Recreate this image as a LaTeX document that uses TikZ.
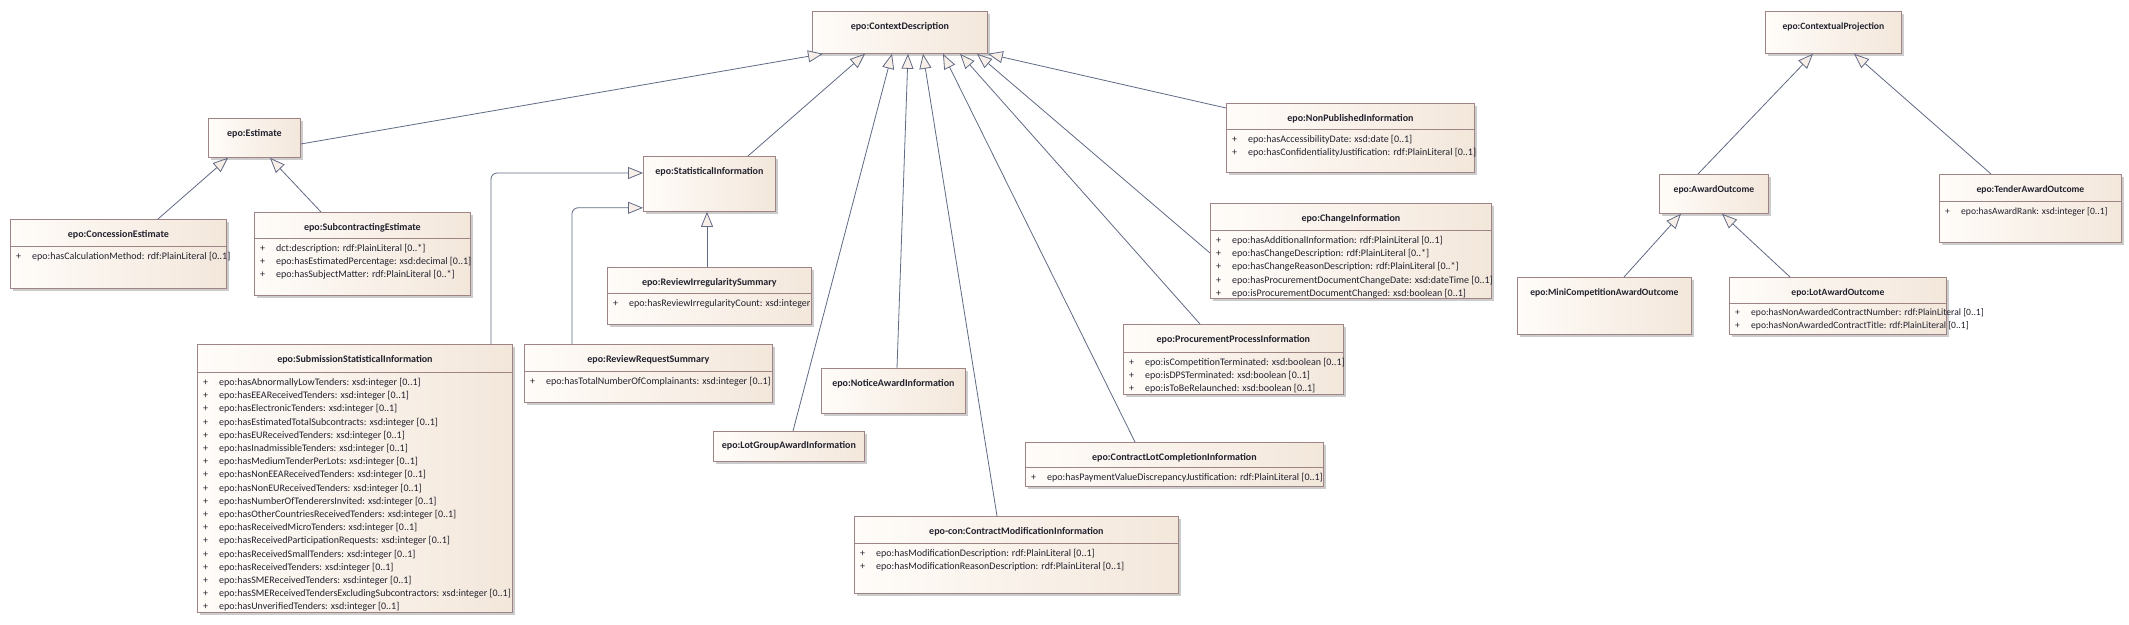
\documentclass[tikz,border=0pt]{standalone}
\usepackage{fontspec}
\setmainfont{Carlito}
\usetikzlibrary{arrows.meta,shadows}

\definecolor{boxline}{RGB}{158,132,132}
\definecolor{boxleft}{RGB}{255,252,249}
\definecolor{boxright}{RGB}{243,231,219}
\definecolor{linkcol}{RGB}{96,106,132}
\definecolor{tipfill}{RGB}{249,239,233}
\definecolor{txtcol}{RGB}{34,34,46}

\newcommand{\attrlist}[1]{\begin{tabular}[t]{@{}p{16pt}@{}l@{}}#1\end{tabular}}

\begin{document}
\begin{tikzpicture}[x=1pt, y=-1pt,
	classbox/.style={draw=boxline, line width=0.8pt, left color=boxleft, right color=boxright,
		anchor=north west, inner sep=0pt,
		drop shadow={shadow xshift=3pt, shadow yshift=-3pt, fill=black!20, opacity=1}},
	clsname/.style={font=\fontsize{10}{12}\selectfont\bfseries, text=txtcol, inner sep=0pt},
	attrs/.style={font=\fontsize{10}{13.2}\selectfont, text=txtcol, anchor=base west, inner sep=0pt},
	pjname/.style={clsname, font=\fontsize{9.6}{11.5}\selectfont\bfseries},
	pjattrs/.style={attrs, font=\fontsize{9.6}{13}\selectfont},
	divline/.style={draw=boxline, line width=0.8pt},
	genlink/.style={draw=linkcol, line width=0.8pt, -{Triangle[length=15pt, width=12pt, fill=tipfill]}}]
	\useasboundingbox[fill=white] (0,0) rectangle (2129,624);

	% ContextDescription hierarchy
	\node[classbox, minimum width=175pt, minimum height=42pt] (ctx) at (812,11) {};
	\node[clsname] at ([yshift=-15.5pt]ctx.north) {epo:ContextDescription};

	\node[classbox, minimum width=92pt, minimum height=39pt] (est) at (208,118) {};
	\node[clsname] at ([yshift=-15.5pt]est.north) {epo:Estimate};

	\node[classbox, minimum width=216pt, minimum height=69pt] (conc) at (10,219) {};
	\node[clsname] at ([yshift=-15.5pt]conc.north) {epo:ConcessionEstimate};
	\draw[divline] ([yshift=-27pt]conc.north west) -- ([yshift=-27pt]conc.north east);
	\node[attrs] at ([xshift=6pt, yshift=-40.5pt]conc.north west) {\attrlist{
		+ & epo:hasCalculationMethod: rdf:PlainLiteral [0..1]}};

	\node[classbox, minimum width=216pt, minimum height=83pt] (subc) at (254,212) {};
	\node[clsname] at ([yshift=-15.5pt]subc.north) {epo:SubcontractingEstimate};
	\draw[divline] ([yshift=-26pt]subc.north west) -- ([yshift=-26pt]subc.north east);
	\node[attrs] at ([xshift=6pt, yshift=-39.5pt]subc.north west) {\attrlist{
		+ & dct:description: rdf:PlainLiteral [0..*] \\
		+ & epo:hasEstimatedPercentage: xsd:decimal [0..1] \\
		+ & epo:hasSubjectMatter: rdf:PlainLiteral [0..*]}};

	\node[classbox, minimum width=132pt, minimum height=55pt] (stat) at (643,156) {};
	\node[clsname] at ([yshift=-15.5pt]stat.north) {epo:StatisticalInformation};

	\node[classbox, minimum width=315pt, minimum height=268pt] (sub) at (197,344) {};
	\node[clsname] at ([yshift=-15.5pt]sub.north) {epo:SubmissionStatisticalInformation};
	\draw[divline] ([yshift=-28pt]sub.north west) -- ([yshift=-28pt]sub.north east);
	\node[attrs] at ([xshift=6pt, yshift=-41.5pt]sub.north west) {\attrlist{
		+ & epo:hasAbnormallyLowTenders: xsd:integer [0..1] \\
		+ & epo:hasEEAReceivedTenders: xsd:integer [0..1] \\
		+ & epo:hasElectronicTenders: xsd:integer [0..1] \\
		+ & epo:hasEstimatedTotalSubcontracts: xsd:integer [0..1] \\
		+ & epo:hasEUReceivedTenders: xsd:integer [0..1] \\
		+ & epo:hasInadmissibleTenders: xsd:integer [0..1] \\
		+ & epo:hasMediumTenderPerLots: xsd:integer [0..1] \\
		+ & epo:hasNonEEAReceivedTenders: xsd:integer [0..1] \\
		+ & epo:hasNonEUReceivedTenders: xsd:integer [0..1] \\
		+ & epo:hasNumberOfTenderersInvited: xsd:integer [0..1] \\
		+ & epo:hasOtherCountriesReceivedTenders: xsd:integer [0..1] \\
		+ & epo:hasReceivedMicroTenders: xsd:integer [0..1] \\
		+ & epo:hasReceivedParticipationRequests: xsd:integer [0..1] \\
		+ & epo:hasReceivedSmallTenders: xsd:integer [0..1] \\
		+ & epo:hasReceivedTenders: xsd:integer [0..1] \\
		+ & epo:hasSMEReceivedTenders: xsd:integer [0..1] \\
		+ & epo:hasSMEReceivedTendersExcludingSubcontractors: xsd:integer [0..1] \\
		+ & epo:hasUnverifiedTenders: xsd:integer [0..1]}};

	\node[classbox, minimum width=204pt, minimum height=57pt] (rirr) at (607,267) {};
	\node[clsname] at ([yshift=-15.5pt]rirr.north) {epo:ReviewIrregularitySummary};
	\draw[divline] ([yshift=-26pt]rirr.north west) -- ([yshift=-26pt]rirr.north east);
	\node[attrs] at ([xshift=6pt, yshift=-39.5pt]rirr.north west) {\attrlist{
		+ & epo:hasReviewIrregularityCount: xsd:integer}};

	\node[classbox, minimum width=248pt, minimum height=58pt] (rreq) at (524,344) {};
	\node[clsname] at ([yshift=-15.5pt]rreq.north) {epo:ReviewRequestSummary};
	\draw[divline] ([yshift=-27pt]rreq.north west) -- ([yshift=-27pt]rreq.north east);
	\node[attrs] at ([xshift=6pt, yshift=-40.5pt]rreq.north west) {\attrlist{
		+ & epo:hasTotalNumberOfComplainants: xsd:integer [0..1]}};

	\node[classbox, minimum width=248pt, minimum height=69pt] (npi) at (1226,103) {};
	\node[clsname] at ([yshift=-15.5pt]npi.north) {epo:NonPublishedInformation};
	\draw[divline] ([yshift=-26pt]npi.north west) -- ([yshift=-26pt]npi.north east);
	\node[attrs] at ([xshift=6pt, yshift=-39.5pt]npi.north west) {\attrlist{
		+ & epo:hasAccessibilityDate: xsd:date [0..1] \\
		+ & epo:hasConfidentialityJustification: rdf:PlainLiteral [0..1]}};

	\node[classbox, minimum width=281pt, minimum height=95pt] (chg) at (1210,203) {};
	\node[clsname] at ([yshift=-15.5pt]chg.north) {epo:ChangeInformation};
	\draw[divline] ([yshift=-27pt]chg.north west) -- ([yshift=-27pt]chg.north east);
	\node[attrs] at ([xshift=6pt, yshift=-40.5pt]chg.north west) {\attrlist{
		+ & epo:hasAdditionalInformation: rdf:PlainLiteral [0..1] \\
		+ & epo:hasChangeDescription: rdf:PlainLiteral [0..*] \\
		+ & epo:hasChangeReasonDescription: rdf:PlainLiteral [0..*] \\
		+ & epo:hasProcurementDocumentChangeDate: xsd:dateTime [0..1] \\
		+ & epo:isProcurementDocumentChanged: xsd:boolean [0..1]}};

	\node[classbox, minimum width=220pt, minimum height=70pt] (ppi) at (1123,324) {};
	\node[clsname] at ([yshift=-15.5pt]ppi.north) {epo:ProcurementProcessInformation};
	\draw[divline] ([yshift=-28pt]ppi.north west) -- ([yshift=-28pt]ppi.north east);
	\node[attrs] at ([xshift=6pt, yshift=-41.5pt]ppi.north west) {\attrlist{
		+ & epo:isCompetitionTerminated: xsd:boolean [0..1] \\
		+ & epo:isDPSTerminated: xsd:boolean [0..1] \\
		+ & epo:isToBeRelaunched: xsd:boolean [0..1]}};

	\node[classbox, minimum width=298pt, minimum height=44pt] (clc) at (1025,442) {};
	\node[clsname] at ([yshift=-15.5pt]clc.north) {epo:ContractLotCompletionInformation};
	\draw[divline] ([yshift=-25pt]clc.north west) -- ([yshift=-25pt]clc.north east);
	\node[attrs] at ([xshift=6pt, yshift=-38.5pt]clc.north west) {\attrlist{
		+ & epo:hasPaymentValueDiscrepancyJustification: rdf:PlainLiteral [0..1]}};

	\node[classbox, minimum width=144pt, minimum height=45pt] (nai) at (821,368) {};
	\node[clsname] at ([yshift=-15.5pt]nai.north) {epo:NoticeAwardInformation};

	\node[classbox, minimum width=151pt, minimum height=30pt] (lga) at (713,431) {};
	\node[clsname] at ([yshift=-15pt]lga.north) {epo:LotGroupAwardInformation};

	\node[classbox, minimum width=324pt, minimum height=77pt] (cmi) at (854,516) {};
	\node[clsname] at ([yshift=-15.5pt]cmi.north) {epo-con:ContractModificationInformation};
	\draw[divline] ([yshift=-27pt]cmi.north west) -- ([yshift=-27pt]cmi.north east);
	\node[attrs] at ([xshift=6pt, yshift=-40.5pt]cmi.north west) {\attrlist{
		+ & epo:hasModificationDescription: rdf:PlainLiteral [0..1] \\
		+ & epo:hasModificationReasonDescription: rdf:PlainLiteral [0..1]}};

	% ContextualProjection hierarchy
	\node[classbox, minimum width=136pt, minimum height=42pt] (cpj) at (1765,11) {};
	\node[pjname] at ([yshift=-15.5pt]cpj.north) {epo:ContextualProjection};

	\node[classbox, minimum width=109pt, minimum height=39pt] (ao) at (1659,174) {};
	\node[pjname] at ([yshift=-15.5pt]ao.north) {epo:AwardOutcome};

	\node[classbox, minimum width=182pt, minimum height=68pt] (tao) at (1939,174) {};
	\node[pjname] at ([yshift=-15.5pt]tao.north) {epo:TenderAwardOutcome};
	\draw[divline] ([yshift=-27pt]tao.north west) -- ([yshift=-27pt]tao.north east);
	\node[pjattrs] at ([xshift=6pt, yshift=-40pt]tao.north west) {\attrlist{
		+ & epo:hasAwardRank: xsd:integer [0..1]}};

	\node[classbox, minimum width=174pt, minimum height=57pt] (mca) at (1517,277) {};
	\node[pjname] at ([yshift=-15.5pt]mca.north) {epo:MiniCompetitionAwardOutcome};

	\node[classbox, minimum width=217pt, minimum height=57pt] (lao) at (1729,277) {};
	\node[pjname] at ([yshift=-15.5pt]lao.north) {epo:LotAwardOutcome};
	\draw[divline] ([yshift=-26pt]lao.north west) -- ([yshift=-26pt]lao.north east);
	\node[pjattrs] at ([xshift=6pt, yshift=-38.5pt]lao.north west) {\attrlist{
		+ & epo:hasNonAwardedContractNumber: rdf:PlainLiteral [0..1] \\
		+ & epo:hasNonAwardedContractTitle: rdf:PlainLiteral [0..1]}};

	% generalizations
	\draw[genlink] ([yshift=-26pt]est.north east) -- ([xshift=11pt]ctx.south west);
	\draw[genlink] ([xshift=148pt]conc.north west) -- ([xshift=20pt]est.south west);
	\draw[genlink] ([xshift=67pt]subc.north west) -- ([xshift=62pt]est.south west);
	\draw[genlink] ([xshift=105pt]stat.north west) -- ([xshift=53pt]ctx.south west);
	\draw[genlink, rounded corners=6pt] ([xshift=294pt]sub.north west) |- ([yshift=-17pt]stat.north west);
	\draw[genlink, rounded corners=6pt] ([xshift=48pt]rreq.north west) |- ([yshift=4pt]stat.south west);
	\draw[genlink] ([xshift=100pt]rirr.north west) -- ([xshift=64pt]stat.south west);
	\draw[genlink] ([xshift=80pt]lga.north west) -- ([xshift=80pt]ctx.south west);
	\draw[genlink] ([xshift=76pt]nai.north west) -- ([xshift=96pt]ctx.south west);
	\draw[genlink] ([xshift=143pt]cmi.north west) -- ([xshift=111pt]ctx.south west);
	\draw[genlink] ([xshift=110pt]clc.north west) -- ([xshift=131pt]ctx.south west);
	\draw[genlink] ([xshift=77pt]ppi.north west) -- ([xshift=148pt]ctx.south west);
	\draw[genlink] ([yshift=-50pt]chg.north west) -- ([xshift=165pt]ctx.south west);
	\draw[genlink] ([yshift=-5pt]npi.north west) -- (ctx.south east);
	\draw[genlink] ([xshift=39pt]ao.north west) -- ([xshift=48pt]cpj.south west);
	\draw[genlink] ([xshift=52pt]tao.north west) -- ([xshift=89pt]cpj.south west);
	\draw[genlink] ([xshift=107pt]mca.north west) -- ([xshift=22pt]ao.south west);
	\draw[genlink] ([xshift=61pt]lao.north west) -- ([xshift=63pt]ao.south west);
\end{tikzpicture}
\end{document}
